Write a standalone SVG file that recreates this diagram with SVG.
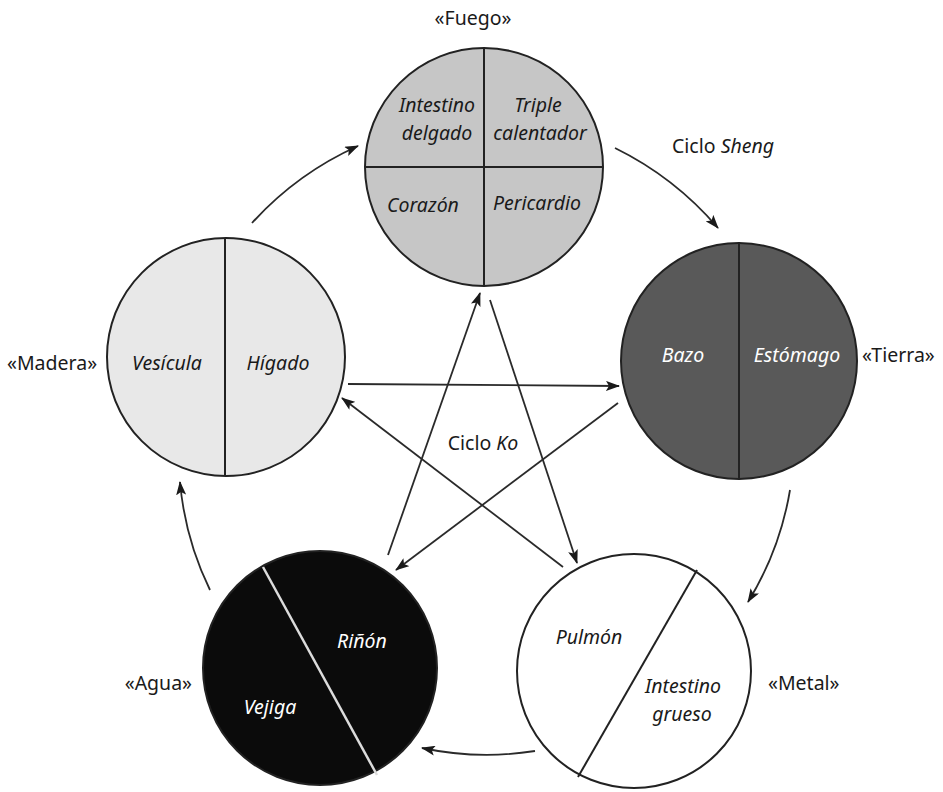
<svg xmlns="http://www.w3.org/2000/svg" width="943" height="792" viewBox="0 0 943 792">
<style>
text{font-family:"Noto Sans","Open Sans","DejaVu Sans",sans-serif;font-size:19.5px;fill:#1a1a1a}
.it{font-style:italic}
.w{fill:#ffffff}
.c{text-anchor:middle}
.node{stroke:#222;stroke-width:2}
.div{stroke:#222;stroke-width:2;fill:none}
.con{stroke:#2a2a2a;stroke-width:1.8;fill:none;marker-end:url(#ah)}
</style>
<defs>
<marker id="ah" viewBox="0 0 14 10" refX="13" refY="5" markerWidth="14" markerHeight="10" markerUnits="userSpaceOnUse" orient="auto">
<path d="M0,0 L14,5 L0,10 L3,5 Z" fill="#1a1a1a"/>
</marker>
</defs>
<rect width="943" height="792" fill="#ffffff"/>
<g id="connectors">
<path class="con" d="M252,223 A320,320 0 0 1 358,146"/>
<path class="con" d="M615,148 A322,322 0 0 1 718,228"/>
<path class="con" d="M790,490 A311,311 0 0 1 748,602"/>
<path class="con" d="M535,751 A310,310 0 0 1 422,748"/>
<path class="con" d="M210,590 A307,307 0 0 1 180,482"/>
<path class="con" d="M348,384 L619,386"/>
<path class="con" d="M618,403 L396,570"/>
<path class="con" d="M388,555 L480,293"/>
<path class="con" d="M490,300 L577,563"/>
<path class="con" d="M563,567 L342,398"/>
</g>
<g id="fuego">
<circle class="node" cx="484" cy="167" r="119" fill="#c6c6c6"/>
<path class="div" d="M484,48 V286 M365,167 H603"/>
<text class="it c" x="437" y="112">Intestino</text>
<text class="it c" x="437" y="140">delgado</text>
<text class="it c" x="538" y="112">Triple</text>
<text class="it c" x="540" y="140">calentador</text>
<text class="it c" x="423" y="212">Corazón</text>
<text class="it c" x="537" y="210">Pericardio</text>
<text class="c" x="473" y="25">«Fuego»</text>
</g>
<g id="tierra">
<circle class="node" cx="739" cy="361" r="118" fill="#595959"/>
<path class="div" d="M739,243 V479"/>
<text class="it c w" x="683" y="362">Bazo</text>
<text class="it c w" x="797" y="362">Estómago</text>
<text x="862" y="362">«Tierra»</text>
</g>
<g id="metal">
<circle class="node" cx="634" cy="671" r="117" fill="#ffffff"/>
<path class="div" d="M697,570 L578,777"/>
<text class="it c" x="589" y="644">Pulmón</text>
<text class="it c" x="683" y="693">Intestino</text>
<text class="it c" x="682" y="721">grueso</text>
<text x="768" y="690">«Metal»</text>
</g>
<g id="agua">
<circle class="node" cx="320" cy="668" r="117" fill="#0b0b0b"/>
<path d="M263,567 L377,775" stroke="#dcdcdc" stroke-width="2.5"/>
<text class="it c w" x="362" y="648">Riñón</text>
<text class="it c w" x="270" y="714">Vejiga</text>
<text x="192" y="690" text-anchor="end">«Agua»</text>
</g>
<g id="madera">
<circle class="node" cx="226" cy="357" r="119" fill="#e8e8e8"/>
<path class="div" d="M225,238 V476"/>
<text class="it c" x="167" y="370">Vesícula</text>
<text class="it c" x="278" y="370">Hígado</text>
<text x="7" y="370">«Madera»</text>
</g>
<text class="c" x="483" y="450">Ciclo <tspan class="it">Ko</tspan></text>
<text x="672" y="153">Ciclo <tspan class="it">Sheng</tspan></text>
</svg>
